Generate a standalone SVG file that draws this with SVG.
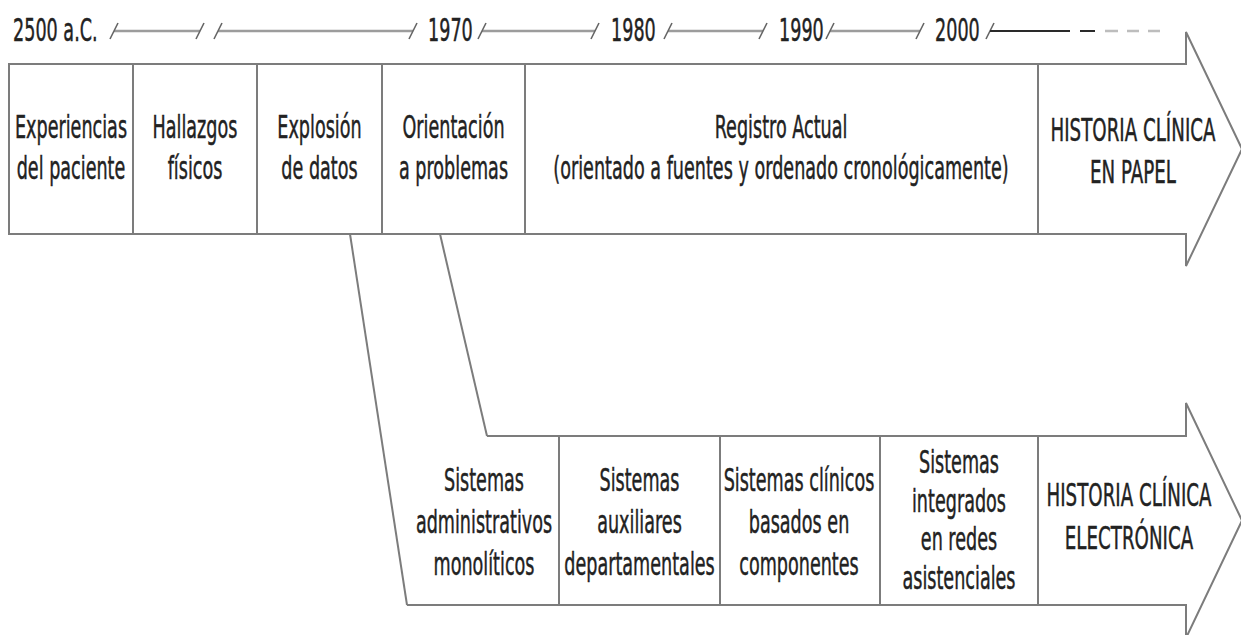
<svg xmlns="http://www.w3.org/2000/svg" width="1241" height="635" viewBox="0 0 1241 635">
<style>
.ln{fill:none;stroke:#7c7c7c;stroke-width:2;stroke-linejoin:miter}
.t{font-family:"DejaVu Sans","Liberation Sans",sans-serif;font-size:32px;fill:#222222;stroke:#222222;stroke-width:0.5}
.tl{stroke:#9c9c9c;stroke-width:2.6;fill:none}
.tk{stroke:#666666;stroke-width:1.6;fill:none}
</style>
<rect width="1241" height="635" fill="#ffffff"/>
<g id="timeline">
  <text class="t" transform="translate(13 0) scale(0.55 1)" x="0" y="41">2500 a.C.</text>
  <text class="t" transform="translate(428 0) scale(0.55 1)" x="0" y="41">1970</text>
  <text class="t" transform="translate(611 0) scale(0.55 1)" x="0" y="41">1980</text>
  <text class="t" transform="translate(779 0) scale(0.55 1)" x="0" y="41">1990</text>
  <text class="t" transform="translate(935 0) scale(0.55 1)" x="0" y="41">2000</text>
  <path class="tl" d="M114,31H200M218,31H413M482,31H595M668,31H763M830,31H920"/>
  <path class="tk" d="M110,39L118,23M196,39L204,23M214,39L222,23M409,39L417,23M478,39L486,23M591,39L599,23M664,39L672,23M759,39L767,23M826,39L834,23M916,39L924,23M986,39L994,23"/>
  <path d="M990,31H1070M1080,31H1095" stroke="#2a2a2a" stroke-width="2" fill="none"/>
  <path d="M1105,31H1118M1127,31H1139M1148,31H1160" stroke="#bdbdbd" stroke-width="2.6" fill="none"/>
</g>
<g id="paper-arrow">
  <path class="ln" d="M9,64H1186V32L1242,149L1186,266V234H9Z"/>
  <path class="ln" d="M133,64V234M257,64V234M382,64V234M525,64V234M1038,64V234"/>
</g>
<g id="node-experiencias">
  <text class="t" transform="translate(71 0) scale(0.55 1)" text-anchor="middle"><tspan x="0" y="138">Experiencias</tspan><tspan x="0" y="179">del paciente</tspan></text>
</g>
<g id="node-hallazgos">
  <text class="t" transform="translate(195 0) scale(0.55 1)" text-anchor="middle"><tspan x="0" y="138">Hallazgos</tspan><tspan x="0" y="179">físicos</tspan></text>
</g>
<g id="node-explosion">
  <text class="t" transform="translate(319.5 0) scale(0.55 1)" text-anchor="middle"><tspan x="0" y="138">Explosión</tspan><tspan x="0" y="179">de datos</tspan></text>
</g>
<g id="node-orientacion">
  <text class="t" transform="translate(453.5 0) scale(0.55 1)" text-anchor="middle"><tspan x="0" y="138">Orientación</tspan><tspan x="0" y="179">a problemas</tspan></text>
</g>
<g id="node-registro">
  <text class="t" transform="translate(781 0) scale(0.55 1)" text-anchor="middle"><tspan x="0" y="138">Registro Actual</tspan><tspan x="0" y="179">(orientado a fuentes y ordenado cronológicamente)</tspan></text>
</g>
<g id="node-hc-papel">
  <text class="t" transform="translate(1133 0) scale(0.57 1)" text-anchor="middle"><tspan x="0" y="141">HISTORIA CLÍNICA</tspan><tspan x="0" y="183">EN PAPEL</tspan></text>
</g>
<g id="electronic-arrow">
  <path class="ln" d="M487,436H1186V403L1242,520.5L1186,638V605H407"/>
  <path class="ln" d="M559,436V605M720,436V605M880,436V605M1038,436V605"/>
</g>
<g id="connectors">
  <path class="ln" d="M350,234L407,605"/>
  <path class="ln" d="M440,234L487,436"/>
</g>
<g id="node-administrativos">
  <text class="t" transform="translate(484 0) scale(0.55 1)" text-anchor="middle"><tspan x="0" y="491">Sistemas</tspan><tspan x="0" y="533">administrativos</tspan><tspan x="0" y="575">monolíticos</tspan></text>
</g>
<g id="node-auxiliares">
  <text class="t" transform="translate(639.5 0) scale(0.55 1)" text-anchor="middle"><tspan x="0" y="491">Sistemas</tspan><tspan x="0" y="533">auxiliares</tspan><tspan x="0" y="575">departamentales</tspan></text>
</g>
<g id="node-componentes">
  <text class="t" transform="translate(799 0) scale(0.55 1)" text-anchor="middle"><tspan x="0" y="491">Sistemas clínicos</tspan><tspan x="0" y="533">basados en</tspan><tspan x="0" y="575">componentes</tspan></text>
</g>
<g id="node-redes">
  <text class="t" transform="translate(959 0) scale(0.55 1)" text-anchor="middle"><tspan x="0" y="473">Sistemas</tspan><tspan x="0" y="512">integrados</tspan><tspan x="0" y="550">en redes</tspan><tspan x="0" y="589">asistenciales</tspan></text>
</g>
<g id="node-hc-electronica">
  <text class="t" transform="translate(1129 0) scale(0.57 1)" text-anchor="middle"><tspan x="0" y="506">HISTORIA CLÍNICA</tspan><tspan x="0" y="549">ELECTRÓNICA</tspan></text>
</g>
</svg>
